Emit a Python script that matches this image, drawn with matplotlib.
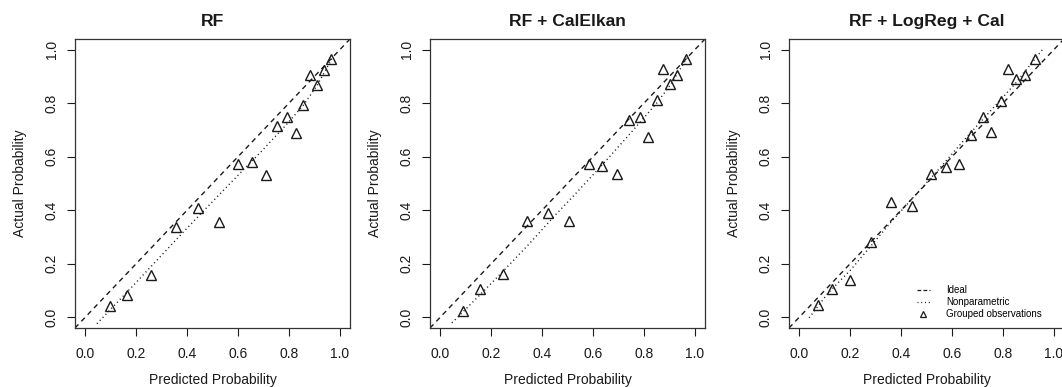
"""
Calibration plots (val.prob style) for three RF variants.
"""

import matplotlib
matplotlib.use("Agg")
import matplotlib.pyplot as plt
from matplotlib.lines import Line2D

TITLES = ["RF", "RF + CalElkan", "RF + LogReg + Cal"]
TICKS  = [0.0, 0.2, 0.4, 0.6, 0.8, 1.0]

# grouped observations: mean predicted vs observed fraction
rf_pred  = [0.096, 0.165, 0.257, 0.358, 0.442, 0.524, 0.599, 0.654, 0.709,
            0.752, 0.794, 0.827, 0.857, 0.882, 0.911, 0.937, 0.967]
rf_obs   = [0.044, 0.084, 0.159, 0.337, 0.407, 0.357, 0.573, 0.581, 0.533,
            0.714, 0.748, 0.689, 0.793, 0.905, 0.868, 0.925, 0.965]

elk_pred = [0.089, 0.156, 0.245, 0.341, 0.423, 0.507, 0.585, 0.637, 0.693,
            0.741, 0.783, 0.817, 0.851, 0.874, 0.904, 0.932, 0.966]
elk_obs  = [0.025, 0.104, 0.162, 0.358, 0.391, 0.358, 0.574, 0.566, 0.536,
            0.737, 0.750, 0.672, 0.813, 0.928, 0.870, 0.905, 0.966]

lr_pred  = [0.073, 0.127, 0.198, 0.281, 0.360, 0.444, 0.517, 0.575, 0.627,
            0.673, 0.721, 0.755, 0.793, 0.822, 0.853, 0.887, 0.925]
lr_obs   = [0.045, 0.104, 0.141, 0.282, 0.431, 0.417, 0.536, 0.563, 0.574,
            0.680, 0.750, 0.693, 0.810, 0.929, 0.890, 0.906, 0.965]

# nonparametric (lowess) curves
rf_smx  = [0.046, 0.19, 0.30, 0.39, 0.45, 0.52, 0.62, 0.70, 0.79, 0.857, 0.91, 0.972]
rf_smy  = [-0.024, 0.12, 0.232, 0.323, 0.383, 0.452, 0.55, 0.628, 0.72, 0.793, 0.865, 0.972]
elk_smx = [0.046, 0.15, 0.245, 0.35, 0.45, 0.52, 0.633, 0.74, 0.85, 0.906, 0.97]
elk_smy = [-0.021, 0.078, 0.17, 0.275, 0.38, 0.45, 0.566, 0.68, 0.80, 0.871, 0.97]
lr_smx  = [0.039, 0.111, 0.203, 0.281, 0.36, 0.45, 0.55, 0.65, 0.75, 0.85, 0.955]
lr_smy  = [-0.002, 0.088, 0.178, 0.266, 0.355, 0.45, 0.555, 0.665, 0.77, 0.875, 1.0]

panels = [
    (rf_pred, rf_obs, rf_smx, rf_smy),
    (elk_pred, elk_obs, elk_smx, elk_smy),
    (lr_pred, lr_obs, lr_smx, lr_smy),
]

plt.rcParams["font.family"] = ["Liberation Sans", "DejaVu Sans"]
INK = "#1a1a1a"
W, H = 1062, 387
fig = plt.figure(figsize=(W / 100, H / 100), dpi=100)

lefts = [75, 430, 789]
box_w, box_top, box_bot = 275, 39, 328
DASH = (3.6, 3.0)
DOT  = (0.8, 2.2)

for i, (left, (px, py, sx, sy)) in enumerate(zip(lefts, panels)):
    ax = fig.add_axes([left / W, (H - box_bot) / H, box_w / W, (box_bot - box_top) / H])
    ax.set_xlim(-0.04, 1.04)
    ax.set_ylim(-0.04, 1.04)

    ax.axline((0, 0), slope=1, color=INK, lw=1.0, dashes=DASH)
    ax.plot(sx, sy, color=INK, lw=1.0, dashes=DOT)
    ax.plot(px, py, ls="none", marker="^", ms=6.8, mew=1.0,
            mfc="none", mec=INK)

    ax.set_xticks(TICKS)
    ax.set_yticks(TICKS)
    ax.set_xticklabels([f"{t:.1f}" for t in TICKS])
    ax.set_yticklabels([f"{t:.1f}" for t in TICKS], rotation=90, va="center")
    ax.tick_params(direction="out", length=5.8, width=0.8, colors=INK,
                   labelsize=10)
    ax.tick_params(axis="x", pad=8)
    ax.tick_params(axis="y", pad=6)
    for s in ax.spines.values():
        s.set_linewidth(0.9)
        s.set_color("#333333")

    ax.set_xlabel("Predicted Probability", fontsize=10, color=INK)
    ax.xaxis.set_label_coords(0.5, -0.18)
    ax.xaxis.label.set_va("center")
    ax.set_ylabel("Actual Probability", fontsize=10, color=INK)
    ax.yaxis.set_label_coords(-0.2, 0.5)
    ax.yaxis.label.set_va("center")

    ax.text(0.5, 1.06, TITLES[i], transform=ax.transAxes, ha="center",
            va="center", fontsize=12.6, fontweight="bold", color=INK)

    if i == 2:
        handles = [
            Line2D([], [], color=INK, lw=0.9, dashes=(3.0, 1.8)),
            Line2D([], [], color=INK, lw=0.9, dashes=DOT),
            Line2D([], [], ls="none", marker="^", ms=4.5, mew=0.9,
                   mfc="none", mec=INK),
        ]
        ax.legend(handles, ["Ideal", "Nonparametric", "Grouped observations"],
                  loc="lower left", bbox_to_anchor=(0.465, 0.03),
                  frameon=False, fontsize=7, handlelength=1.3,
                  handletextpad=1.7, labelspacing=0.2, borderpad=0,
                  borderaxespad=0)

fig.savefig("out.png", dpi=100, facecolor="white")
